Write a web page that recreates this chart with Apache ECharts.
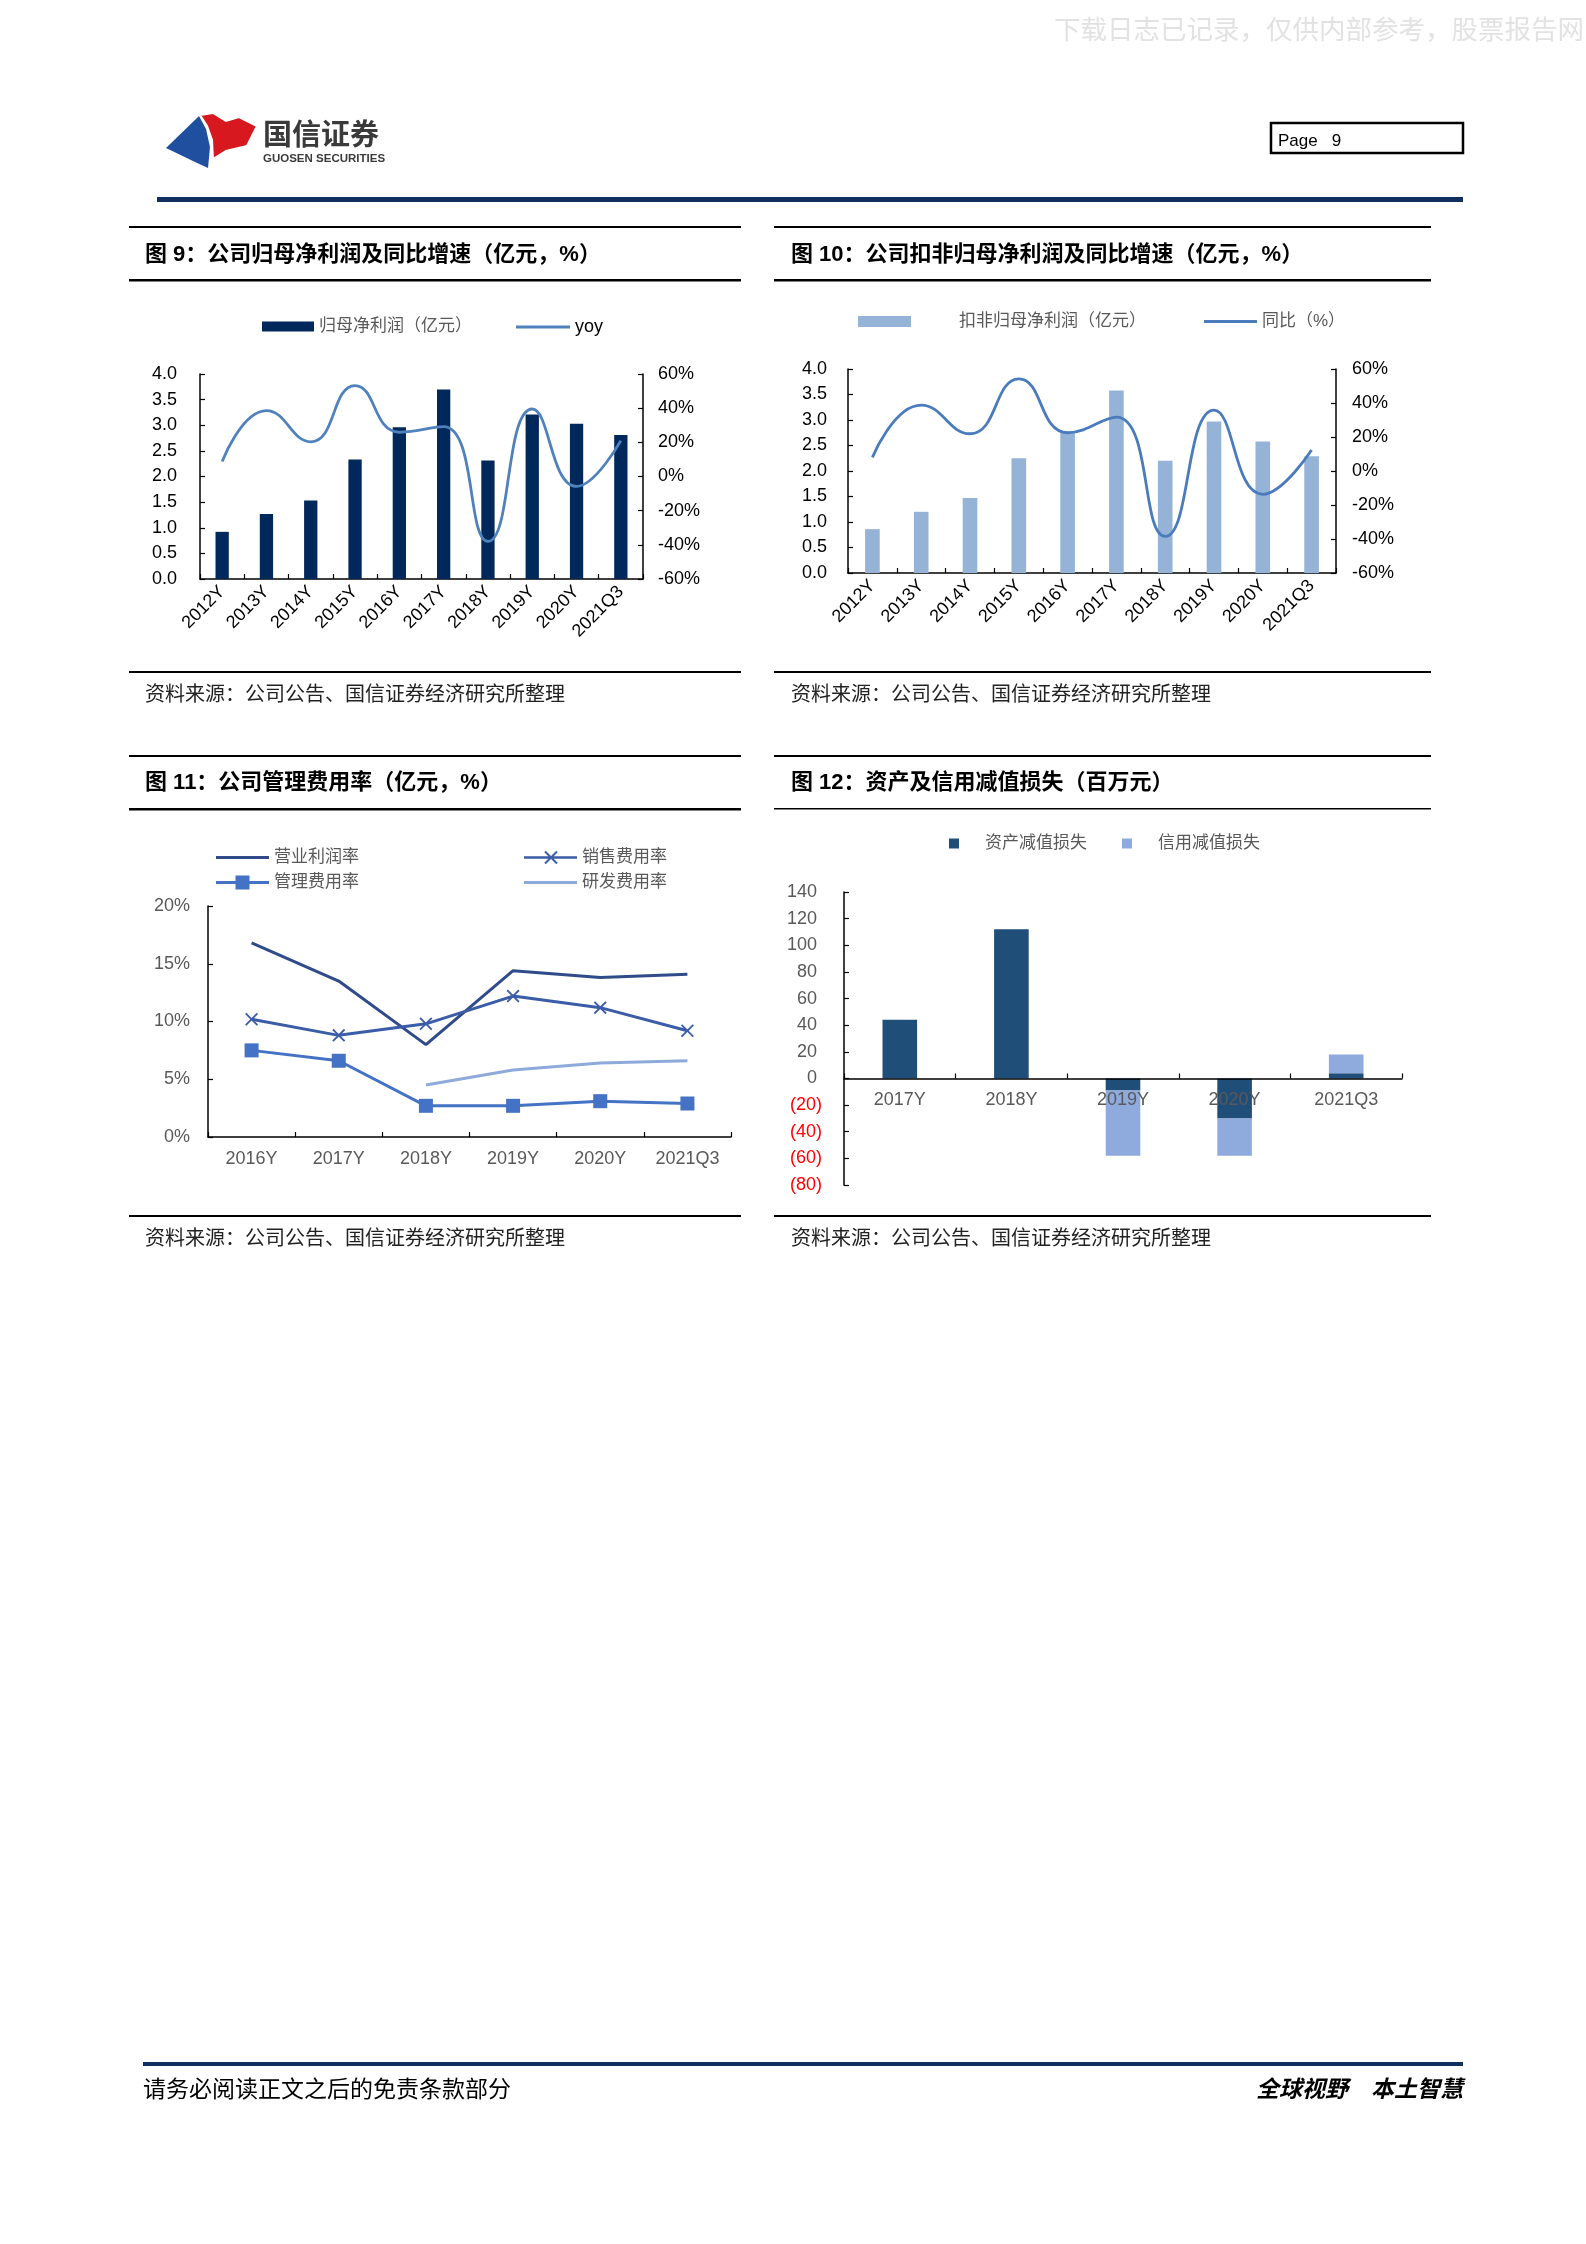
<!DOCTYPE html>
<html><head><meta charset="utf-8">
<script src="https://cdn.jsdelivr.net/npm/echarts/dist/echarts.min.js"></script>
<style>html,body{margin:0;padding:0;background:#fff}#c{width:1586px;height:2244px}</style>
</head><body><div id="c"></div>
<script>
// ---------- data ----------
const years9 = ['2012Y','2013Y','2014Y','2015Y','2016Y','2017Y','2018Y','2019Y','2020Y','2021Q3'];
const netProfit9 = [0.92,1.27,1.53,2.33,2.96,3.70,2.31,3.21,3.03,2.81];
const yoy9 = [8.8,38.6,20.3,53.2,25.9,29.2,-38.0,39.5,-5.8,21.0];

const years10 = ['2012Y','2013Y','2014Y','2015Y','2016Y','2017Y','2018Y','2019Y','2020Y','2021Q3'];
const deductProfit10 = [0.86,1.20,1.47,2.25,2.77,3.58,2.20,2.97,2.58,2.29];
const yoy10 = [8.0,38.7,21.9,54.2,22.5,31.7,-38.5,35.8,-13.7,12.3];

const years11 = ['2016Y','2017Y','2018Y','2019Y','2020Y','2021Q3'];
const opMargin11 = [16.8,13.5,8.0,14.4,13.8,14.1];
const sellRate11 = [10.2,8.8,9.8,12.2,11.2,9.2];
const adminRate11 = [7.5,6.6,2.7,2.7,3.1,2.9];
const rdRate11 = [null,null,4.5,5.8,6.4,6.6];

const years12 = ['2017Y','2018Y','2019Y','2020Y','2021Q3'];
const assetImp12 = [44,112,-9,-30,4];
const creditImp12 = [null,null,-49,-28,14];

// ---------- styles ----------
const NUM = '"Liberation Sans", Arial, sans-serif';
const CJK = '"Liberation Sans", "Noto Sans CJK SC", sans-serif';
const AX = {color:'#000', width:1.5};

function txt(x,y,text,size,opts){
  opts = opts||{};
  return {type:'text', x:x, y:y, silent:true, z:5,
    style:{text:text, fontSize:size, fontFamily:opts.family||CJK, fontWeight:opts.weight||'normal',
      fontStyle:opts.style||'normal', fill:opts.fill||'#000', align:opts.align||'left', verticalAlign:'middle'}};
}
function rect(x,y,w,h,fill){
  return {type:'rect', silent:true, z:5, shape:{x:x,y:y,width:w,height:h}, style:{fill:fill}};
}

const graphics = [
  txt(1584,29,'下载日志已记录，仅供内部参考，股票报告网',26.5,{fill:'#e2e2e2',align:'right',family:'"Noto Sans CJK SC"'}),
  // logo
  {type:'polygon', silent:true, shape:{points:[[166,148],[199,116],[206,129],[210,147],[208,168],[195,162]]}, style:{fill:'#1f4f9e'}},
  {type:'polygon', silent:true, shape:{points:[[200,115],[213,113],[226,121],[239,117],[257,126],[247,146],[226,151],[213,159],[212,140],[207,126]]}, style:{fill:'#d7191f', stroke:'#fff', lineWidth:2}},
  txt(263,134,'国信证券',29,{weight:'bold',fill:'#3a3a3a',family:'"Noto Sans CJK SC"'}),
  txt(263,159,'GUOSEN SECURITIES',11.5,{weight:'bold',fill:'#3a3a3a',family:'"Liberation Sans Narrow","Liberation Sans"'}),
  {type:'rect', silent:true, shape:{x:1271,y:123,width:192,height:30}, style:{fill:'none', stroke:'#000', lineWidth:2.5}},
  txt(1278,141,'Page   9',17,{family:'"Liberation Sans Narrow","Liberation Sans"'}),
  rect(157,197,1306,5,'#102f5e'),
  // footer
  rect(143,2062,1320,4,'#102f5e'),
  txt(143,2088,'请务必阅读正文之后的免责条款部分',23,{family:'"Noto Sans CJK SC"'}),
  txt(1463,2088,'全球视野　本土智慧',23,{weight:'bold',style:'italic',align:'right',family:'"Noto Sans CJK SC"'}),

  // panel 9
  rect(129,226,612,2,'#000'), rect(129,279,612,2.5,'#000'), rect(129,671,612,2,'#000'),
  txt(145,255,'图 9：公司归母净利润及同比增速（亿元，%）',22,{weight:'bold'}),
  txt(145,693,'资料来源：公司公告、国信证券经济研究所整理',20,{fill:'#222',family:'"Noto Sans CJK SC"'}),
  // panel 10
  rect(774,226,657,2,'#000'), rect(774,279,657,2.5,'#000'), rect(774,671,657,2,'#000'),
  txt(791,255,'图 10：公司扣非归母净利润及同比增速（亿元，%）',22,{weight:'bold'}),
  txt(791,693,'资料来源：公司公告、国信证券经济研究所整理',20,{fill:'#222',family:'"Noto Sans CJK SC"'}),
  // panel 11
  rect(129,755,612,2,'#000'), rect(129,808,612,2.5,'#000'), rect(129,1215,612,2,'#000'),
  txt(145,783,'图 11：公司管理费用率（亿元，%）',22,{weight:'bold'}),
  txt(145,1237,'资料来源：公司公告、国信证券经济研究所整理',20,{fill:'#222',family:'"Noto Sans CJK SC"'}),
  // panel 12
  rect(774,755,657,2,'#000'), rect(774,808,657,1.5,'#000'), rect(774,1215,657,2,'#000'),
  txt(791,783,'图 12：资产及信用减值损失（百万元）',22,{weight:'bold'}),
  txt(791,1237,'资料来源：公司公告、国信证券经济研究所整理',20,{fill:'#222',family:'"Noto Sans CJK SC"'})
];

function catAxis(gi, data, label){
  return Object.assign({type:'category', gridIndex:gi, data:data, boundaryGap:true,
    axisLine:{show:true, onZero:false, lineStyle:AX}, axisTick:{show:true, inside:true, length:5, lineStyle:{color:'#000',width:1.2}},
    splitLine:{show:false}}, {axisLabel:Object.assign({interval:0, fontFamily:NUM, fontSize:18}, label)});
}
function valAxis(gi, min, max, interval, label, pos){
  return {type:'value', gridIndex:gi, min:min, max:max, interval:interval, position:pos||'left',
    axisLine:{show:true, lineStyle:AX}, axisTick:{show:true, inside:true, length:5, lineStyle:{color:'#000',width:1.2}},
    splitLine:{show:false}, axisLabel:Object.assign({fontFamily:NUM, fontSize:18}, label)};
}

const xPath = 'path://M0,5.8L53,5.8L53,8.2L0,8.2Z M21.7,0.3L33.7,12.3L32.3,13.7L20.3,1.7Z M32.3,0.3L33.7,1.7L21.7,13.7L20.3,12.3Z';
const sqPath = 'path://M0,5.5L53,5.5L53,8.5L0,8.5Z M19.5,0L33.5,0L33.5,14L19.5,14Z';
const xMarker = 'path://M1.4,0L7,5.6L12.6,0L14,1.4L8.4,7L14,12.6L12.6,14L7,8.4L1.4,14L0,12.6L5.6,7L0,1.4Z';

function leg(name, left, top, icon, w, h, ts){
  return {data:[name], left:left, top:top, icon:icon, itemWidth:w, itemHeight:h, padding:0,
    selectedMode:false, itemStyle:{borderWidth:0}, lineStyle:{width:0},
    textStyle:Object.assign({fontSize:17, color:'#595959', fontFamily:CJK}, ts||{})};
}

// chart 12 grid geometry: zero line sits 80/220 of the height above the bottom
const g12 = {left:844, top:892, width:558, height:293};
const y12min = -80, y12max = 140;
const zeroOffset12 = -g12.height * (0 - y12min) / (y12max - y12min);

const option = {
  backgroundColor:'#fff',
  animation:false,
  graphic:graphics,
  grid:[
    {left:200, top:374, width:443, height:205, outerBoundsMode:'none'},
    {left:848, top:369, width:488, height:204, outerBoundsMode:'none'},
    {left:208, top:906, width:523, height:231, outerBoundsMode:'none'},
    Object.assign({outerBoundsMode:'none'}, g12)
  ],
  legend:[
    leg('归母净利润（亿元）',262,318,'rect',52,10),
    leg('yoy',516,318,'rect',54,3,{fontSize:18,color:'#000',fontFamily:NUM}),
    leg('扣非归母净利润（亿元）',858,313,'rect',53,11,{padding:[0,0,0,43]}),
    leg('同比（%）',1204,313,'rect',53,3),
    leg('营业利润率',216,849,'rect',53,3),
    leg('销售费用率',524,849,xPath,53,14),
    leg('管理费用率',216,874,sqPath,53,14),
    leg('研发费用率',524,874,'rect',53,3),
    leg('资产减值损失',949,835,'rect',10,10,{padding:[0,0,0,21]}),
    leg('信用减值损失',1122,835,'rect',10,10,{padding:[0,0,0,21]})
  ],
  xAxis:[
    catAxis(0, years9, {rotate:45, color:'#000', margin:10}),
    catAxis(1, years10, {rotate:45, color:'#000', margin:10}),
    catAxis(2, years11, {color:'#595959', margin:13}),
    Object.assign(catAxis(3, years12, {color:'#595959', margin:13}), {z:10, offset:zeroOffset12})
  ],
  yAxis:[
    valAxis(0,0,4,0.5,{color:'#000', margin:23, formatter:v=>v.toFixed(1)}),
    valAxis(0,-60,60,20,{color:'#000', margin:15, formatter:v=>v+'%'},'right'),
    valAxis(1,0,4,0.5,{color:'#000', margin:21, formatter:v=>v.toFixed(1)}),
    valAxis(1,-60,60,20,{color:'#000', margin:16, formatter:v=>v+'%'},'right'),
    valAxis(2,0,20,5,{color:'#595959', margin:18, formatter:v=>v+'%'}),
    valAxis(3,y12min,y12max,20,{color:'#595959', margin:22,
      formatter:v=> v<0 ? '{r|('+(-v)+')}' : v+' ',
      rich:{r:{color:'#ff0000', fontSize:18, fontFamily:NUM}}})
  ],
  series:[
    {type:'bar', name:'归母净利润（亿元）', xAxisIndex:0, yAxisIndex:0, data:netProfit9, barWidth:'30%', itemStyle:{color:'#00285a'}},
    {type:'line', name:'yoy', xAxisIndex:0, yAxisIndex:1, data:yoy9, smooth:0.5, symbol:'none', lineStyle:{width:2.8, color:'#4f81bd'}, itemStyle:{color:'#4f81bd'}},
    {type:'bar', name:'扣非归母净利润（亿元）', xAxisIndex:1, yAxisIndex:2, data:deductProfit10, barWidth:'30%', itemStyle:{color:'#95b3d7'}},
    {type:'line', name:'同比（%）', xAxisIndex:1, yAxisIndex:3, data:yoy10, smooth:0.5, symbol:'none', lineStyle:{width:2.8, color:'#4a7cbd'}, itemStyle:{color:'#4a7cbd'}},
    {type:'line', name:'营业利润率', xAxisIndex:2, yAxisIndex:4, data:opMargin11, symbol:'none', lineStyle:{width:3, color:'#2f4b8a'}, itemStyle:{color:'#2f4b8a'}},
    {type:'line', name:'销售费用率', xAxisIndex:2, yAxisIndex:4, data:sellRate11, symbol:xMarker, symbolSize:13, lineStyle:{width:3, color:'#3b5ca6'}, itemStyle:{color:'#3b5ca6', borderWidth:0}},
    {type:'line', name:'管理费用率', xAxisIndex:2, yAxisIndex:4, data:adminRate11, symbol:'rect', symbolSize:14, lineStyle:{width:3, color:'#4472c4'}, itemStyle:{color:'#4472c4', borderWidth:0}},
    {type:'line', name:'研发费用率', xAxisIndex:2, yAxisIndex:4, data:rdRate11, symbol:'none', lineStyle:{width:3, color:'#8eaadb'}, itemStyle:{color:'#8eaadb'}},
    {type:'bar', name:'资产减值损失', xAxisIndex:3, yAxisIndex:5, data:assetImp12, stack:'imp', barWidth:'31%', itemStyle:{color:'#1f4e79'}},
    {type:'bar', name:'信用减值损失', xAxisIndex:3, yAxisIndex:5, data:creditImp12, stack:'imp', barWidth:'31%', itemStyle:{color:'#8faadc'}}
  ]
};
const chart = echarts.init(document.getElementById('c'), null, {renderer:'canvas', width:1586, height:2244});
chart.setOption(option);
</script>
</body></html>
